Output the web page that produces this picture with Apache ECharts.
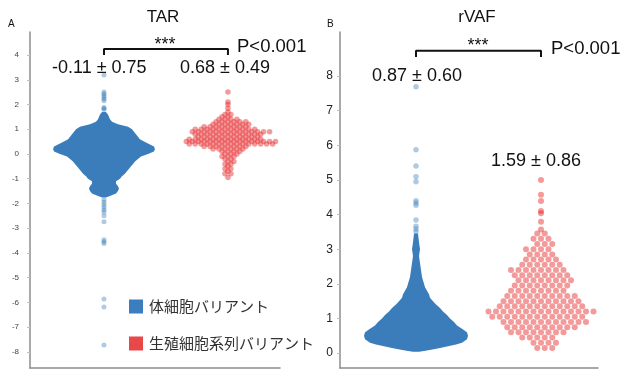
<!DOCTYPE html>
<html><head><meta charset="utf-8">
<script src="https://cdn.jsdelivr.net/npm/echarts@6/dist/echarts.min.js"></script>
<style>html,body{margin:0;padding:0;background:#fff}#c{width:624px;height:376px}</style>
</head><body><div id="c"></div>
<script>
// ---------- data ----------
const groups = ['体細胞バリアント', '生殖細胞系列バリアント'];
const groupPos = [1, 2];
const tarTicks = [-8, -7, -6, -5, -4, -3, -2, -1, 0, 1, 2, 3, 4];
const vafTicks = [0, 1, 2, 3, 4, 5, 6, 7, 8];
const tarSummary = ['-0.11 ± 0.75', '0.68 ± 0.49'];
const vafSummary = ['0.87 ± 0.60', '1.59 ± 0.86'];
const pText = 'P<0.001';

// TAR, somatic: dense swarm outline (level -> half width in x units)
const tarSomaticLevels = [1.70, 1.60, 1.50, 1.40, 1.30, 1.20, 1.10, 1.00, 0.90, 0.80, 0.70, 0.60, 0.50, 0.40, 0.30, 0.20, 0.10, 0.00, -0.10, -0.20, -0.30, -0.40, -0.50, -0.60, -0.70, -0.80, -0.90, -1.00, -1.10, -1.20, -1.30, -1.40, -1.50, -1.60, -1.70, -1.76];
const tarSomaticHalf = [0.016, 0.032, 0.040, 0.048, 0.065, 0.113, 0.194, 0.226, 0.242, 0.258, 0.274, 0.290, 0.323, 0.363, 0.403, 0.411, 0.403, 0.355, 0.298, 0.274, 0.250, 0.234, 0.218, 0.202, 0.185, 0.169, 0.145, 0.129, 0.097, 0.097, 0.113, 0.121, 0.113, 0.097, 0.048, 0.016];
const tarSomaticOutliers = [3.19, 2.50, 2.43, 2.36, 2.29, 2.22, 2.15, 1.88, 1.84, 1.80, -1.85, -1.95, -2.05, -2.15, -2.25, -2.35, -2.50, -2.74, -3.47, -3.55, -3.62, -5.86, -6.18, -7.72];
// TAR, germline: swarm rows (level -> number of points)
const tarGermLevels = [2.50, 2.10, 2.00, 1.85, 1.70, 1.60, 1.50, 1.40, 1.30, 1.20, 1.10, 1.00, 0.90, 0.80, 0.70, 0.60, 0.50, 0.40, 0.30, 0.20, 0.10, 0.00, -0.10, -0.20, -0.30, -0.40, -0.50, -0.60, -0.70, -0.80, -0.95];
const tarGermCounts = [1, 1, 1, 1, 1, 2, 2, 4, 6, 7, 8, 11, 14, 12, 11, 13, 16, 15, 8, 6, 4, 3, 3, 2, 2, 2, 1, 2, 1, 2, 1];

// rVAF, somatic
const vafSomaticLevels = [3.45, 3.20, 3.00, 2.80, 2.60, 2.40, 2.20, 2.00, 1.90, 1.80, 1.70, 1.60, 1.50, 1.40, 1.30, 1.20, 1.10, 1.00, 0.90, 0.80, 0.70, 0.60, 0.50, 0.40, 0.30, 0.25, 0.20, 0.15, 0.10, 0.06, 0.04];
const vafSomaticHalf = [0.016, 0.024, 0.032, 0.024, 0.032, 0.040, 0.048, 0.064, 0.072, 0.088, 0.104, 0.112, 0.136, 0.160, 0.192, 0.216, 0.248, 0.272, 0.304, 0.328, 0.368, 0.408, 0.416, 0.408, 0.368, 0.320, 0.256, 0.192, 0.120, 0.064, 0.024];
const vafSomaticOutliers = [7.69, 5.87, 5.40, 5.09, 4.95, 4.40, 4.33, 4.27, 3.84, 3.66, 3.58, 3.50];
// rVAF, germline
const vafGermLevels = [5.00, 4.57, 4.39, 4.10, 4.04, 3.79, 3.57, 3.45, 3.30, 3.15, 3.00, 2.85, 2.70, 2.55, 2.40, 2.25, 2.10, 1.95, 1.80, 1.65, 1.50, 1.35, 1.20, 1.05, 0.90, 0.75, 0.60, 0.45, 0.30, 0.15];
const vafGermCounts = [1, 1, 1, 1, 1, 1, 1, 2, 3, 3, 4, 4, 5, 6, 8, 8, 8, 8, 8, 10, 11, 12, 15, 13, 12, 10, 8, 5, 4, 3];

// ---------- styling ----------
const BLUE = '#3a7dba';
const BLUE_LIGHT = 'rgba(55,126,184,0.5)';
const RED = 'rgba(228,26,28,0.55)';
const LATIN = 'Liberation Sans, Arial, sans-serif';
const CJK = 'Noto Sans CJK JP, sans-serif';

// hexagonal row packing: alternate rows are offset by half a spacing
function swarm(levels, counts, center, spacing) {
  const pts = [];
  levels.forEach((lv, i) => {
    const n = counts[i];
    let shift = 0;
    if (n > 1) {
      const natural = (n - 1) % 2;      // 1 -> half-integer slots
      const wanted = i % 2;
      if (natural !== wanted) shift = (i % 4 < 2 ? 0.5 : -0.5) * spacing;
    }
    for (let k = 0; k < n; k++) {
      pts.push([center + (k - (n - 1) / 2) * spacing + shift, lv]);
    }
  });
  return pts;
}
function outlineSeries(name, gi, levels, half, center) {
  return {
    name, type: 'custom', xAxisIndex: gi, yAxisIndex: gi, silent: true,
    data: levels.map((lv, i) => [center, lv, half[i]]),
    renderItem(params, api) {
      if (params.dataIndex !== 0) return null;
      const right = levels.map((lv, i) => api.coord([center + half[i], lv]));
      const left = levels.map((lv, i) => api.coord([center - half[i], lv])).reverse();
      return { type: 'polygon', shape: { points: right.concat(left) }, style: { fill: BLUE } };
    },
    z: 2
  };
}
function bracket(gi, low, high) {
  return {
    type: 'line', xAxisIndex: gi, yAxisIndex: gi, silent: true, symbol: 'none',
    data: [[groupPos[0], low], [groupPos[0], high], [groupPos[1], high], [groupPos[1], low]],
    lineStyle: { color: '#111', width: 2 }, z: 5
  };
}
function yAx(gi, min, max, ticks, fs, col, margin) {
  return {
    gridIndex: gi, type: 'value', min, max,
    axisLine: { show: true, onZero: false, lineStyle: { color: '#8c8c8c', width: 1.5 } },
    axisTick: { show: true, length: 3, customValues: ticks, lineStyle: { color: '#c0c0c0' } },
    axisLabel: { customValues: ticks, fontSize: fs, color: col, margin, fontFamily: LATIN },
    splitLine: { show: false }
  };
}
function xAx(gi, min, max) {
  return {
    gridIndex: gi, type: 'value', min, max,
    axisLine: { show: true, onZero: false, lineStyle: { color: '#8c8c8c', width: 1.5 } },
    axisTick: { show: false }, axisLabel: { show: false }, splitLine: { show: false }
  };
}
function txt(x, y, text, fs, align, extra) {
  return { type: 'text', x, y, style: Object.assign({ text, fontSize: fs, fontFamily: LATIN, fill: '#111', align: align || 'left', verticalAlign: 'middle' }, extra || {}) };
}

const chart = echarts.init(document.getElementById('c'), null, { renderer: 'canvas' });
chart.setOption({
  animation: false,
  backgroundColor: '#fff',
  grid: [
    { left: 30, top: 32, width: 250, height: 336 },
    { left: 340, top: 32, width: 258, height: 336 }
  ],
  xAxis: [xAx(0, 0.403, 2.42), xAx(1, 0.392, 2.456)],
  yAxis: [yAx(0, -8.65, 4.93, tarTicks, 8, '#444', 11), yAx(1, -0.43, 9.27, vafTicks, 12, '#222', 7)],
  legend: {
    orient: 'vertical', left: 124, top: 294, itemWidth: 14, itemHeight: 14, itemGap: 22,
    icon: 'rect', selectedMode: false,
    textStyle: { fontSize: 15, fontFamily: CJK, color: '#333', padding: [0, 0, 0, 1], lineHeight: 14 },
    data: [{ name: groups[0], itemStyle: { color: '#3a7ebf' } }, { name: groups[1], itemStyle: { color: '#e41a1c' } }]
  },
  series: [
    outlineSeries(groups[0], 0, tarSomaticLevels, tarSomaticHalf, groupPos[0]),
    { name: groups[0], type: 'scatter', xAxisIndex: 0, yAxisIndex: 0, symbolSize: 5, itemStyle: { color: BLUE_LIGHT }, data: tarSomaticOutliers.map(v => [groupPos[0], v]), z: 3 },
    { name: groups[1], type: 'scatter', xAxisIndex: 0, yAxisIndex: 0, symbolSize: 5.5, itemStyle: { color: RED }, data: swarm(tarGermLevels, tarGermCounts, groupPos[1], 0.048), z: 3 },
    outlineSeries(groups[0], 1, vafSomaticLevels, vafSomaticHalf, groupPos[0]),
    { name: groups[0], type: 'scatter', xAxisIndex: 1, yAxisIndex: 1, symbolSize: 5.5, itemStyle: { color: BLUE_LIGHT }, data: vafSomaticOutliers.map(v => [groupPos[0], v]), z: 3 },
    { name: groups[1], type: 'scatter', xAxisIndex: 1, yAxisIndex: 1, symbolSize: 6, itemStyle: { color: RED }, data: swarm(vafGermLevels, vafGermCounts, groupPos[1], 0.06), z: 3 },
    bracket(0, 4.0, 4.24),
    bracket(1, 8.55, 8.73)
  ],
  graphic: [
    txt(8, 24, 'A', 10),
    txt(327, 24, 'B', 10),
    txt(163, 17, 'TAR', 17, 'center'),
    txt(477, 17, 'rVAF', 17, 'center'),
    txt(165, 45, '***', 18, 'center'),
    txt(478, 46, '***', 18, 'center'),
    txt(237, 47, pText, 18.5),
    txt(551, 49, pText, 18.5),
    txt(52, 68, tarSummary[0], 18),
    txt(180, 68, tarSummary[1], 18),
    txt(372, 76, vafSummary[0], 18),
    txt(491, 161, vafSummary[1], 18)
  ]
});
</script></body></html>
